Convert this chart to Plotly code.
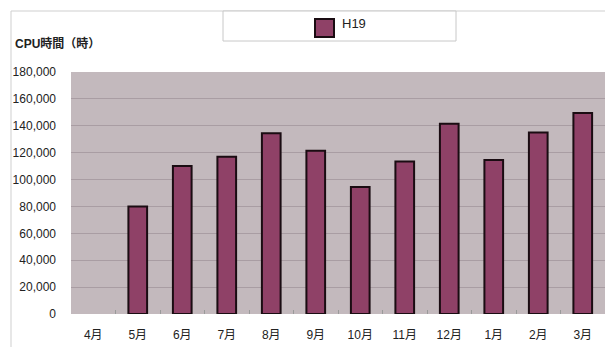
import plotly.graph_objects as go

# Monthly CPU hours, fiscal year H19 (April to March)
months = ["4月", "5月", "6月", "7月", "8月", "9月", "10月", "11月", "12月", "1月", "2月", "3月"]
cpu_hours = [None, 80000, 110000, 117000, 134500, 121500, 94500, 113500, 141500, 114500, 135000, 149500]
series_name = "H19"
y_ticks = [0, 20000, 40000, 60000, 80000, 100000, 120000, 140000, 160000, 180000]

BAR_FILL = "#8F4167"
BAR_EDGE = "#1a0c12"
PLOT_BG = "#C3B9BD"
GRID = "#A99DA3"
FONT = "Liberation Sans, Arial, Noto Sans CJK JP, sans-serif"

W, H = 605, 347
L, R, T, B = 71, 0, 72, 33
pw, ph = W - L - R, H - T - B


def px_x(x):
    return (x - L) / pw


def px_y(y):
    return (H - B - y) / ph


fig = go.Figure()
fig.add_trace(go.Bar(
    x=months,
    y=cpu_hours,
    name=series_name,
    width=0.42,
    marker=dict(color=BAR_FILL, line=dict(color=BAR_EDGE, width=2)),
    showlegend=False,
))

shapes = [
    # outer chart frame (top and left edges)
    dict(type="line", xref="paper", yref="paper", x0=px_x(11), x1=px_x(605), y0=px_y(11), y1=px_y(11),
         line=dict(color="#cfcfcf", width=1)),
    dict(type="line", xref="paper", yref="paper", x0=px_x(11), x1=px_x(11), y0=px_y(11), y1=px_y(347),
         line=dict(color="#cfcfcf", width=1)),
    # legend box
    dict(type="rect", xref="paper", yref="paper", x0=px_x(223), x1=px_x(456), y0=px_y(41), y1=px_y(11),
         line=dict(color="#c8c8c8", width=1), fillcolor="white"),
    # legend swatch
    dict(type="rect", xref="paper", yref="paper", x0=px_x(315), x1=px_x(334), y0=px_y(37), y1=px_y(19),
         line=dict(color=BAR_EDGE, width=2), fillcolor=BAR_FILL),
]

annotations = [
    dict(text=series_name, xref="paper", yref="paper", x=px_x(340), y=px_y(14),
         xanchor="left", yanchor="top", showarrow=False,
         font=dict(family=FONT, size=13, color="#222")),
    dict(text="<b>CPU時間（時）</b>", xref="paper", yref="paper", x=px_x(13), y=px_y(44),
         xanchor="left", yanchor="middle", showarrow=False,
         font=dict(family=FONT, size=12, color="#222")),
]

fig.update_layout(
    width=W, height=H,
    margin=dict(l=L, r=R, t=T, b=B, pad=0),
    paper_bgcolor="white",
    plot_bgcolor=PLOT_BG,
    font=dict(family=FONT, size=12, color="#222"),
    shapes=shapes,
    annotations=annotations,
    xaxis=dict(
        type="category",
        categoryorder="array",
        categoryarray=months,
        showgrid=False,
        showline=False,
        ticks="inside",
        tickson="boundaries",
        ticklen=4,
        tickcolor="#9a9a9a",
        ticklabelstandoff=12,
        tickfont=dict(size=12, color="#222"),
        zeroline=False,
    ),
    yaxis=dict(
        range=[0, 180000],
        tickvals=y_ticks,
        tickformat=",d",
        showgrid=True,
        gridcolor=GRID,
        gridwidth=1,
        zeroline=False,
        showline=False,
        ticks="",
        ticklabelstandoff=14,
        tickfont=dict(size=12, color="#222"),
    ),
)

fig.write_html("out.html")
